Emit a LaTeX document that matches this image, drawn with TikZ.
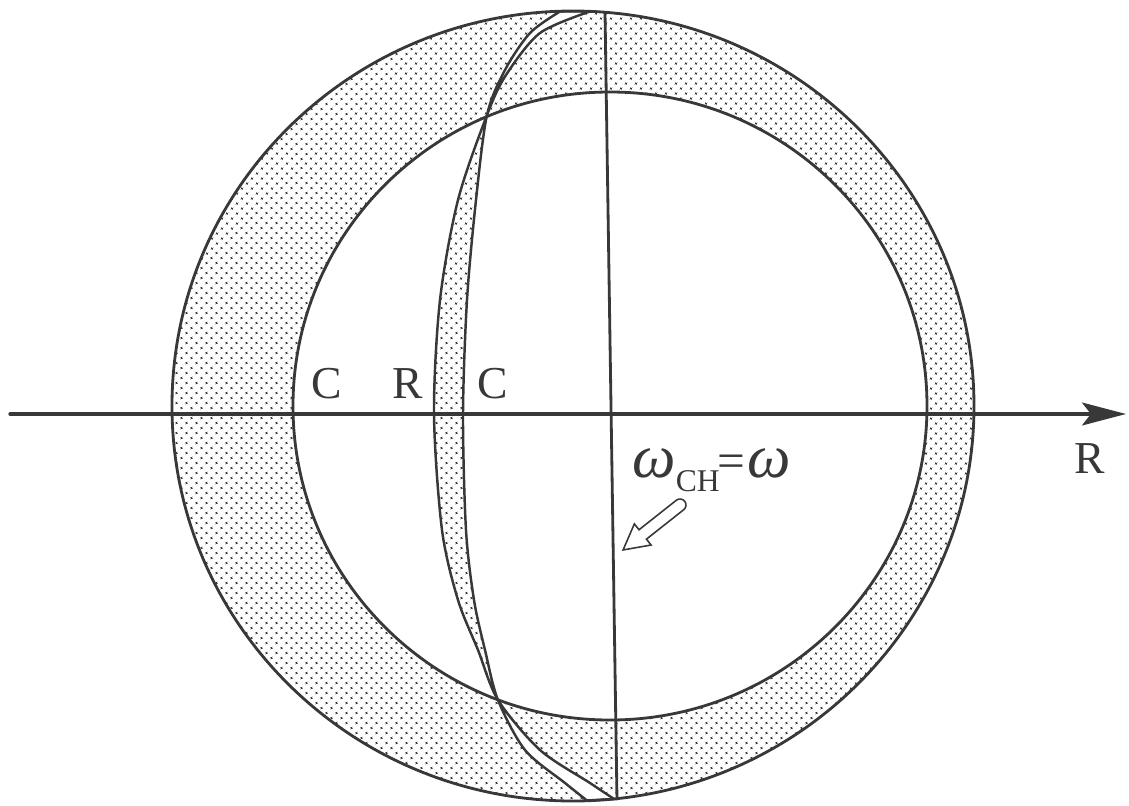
\documentclass[tikz,border=0pt]{standalone}
\usepackage{fontspec}
\setmainfont{Liberation Serif}
\usetikzlibrary{arrows.meta, patterns.meta}
\definecolor{inkgray}{HTML}{383838}

% meridian lens: outer curve top to bottom, inner curve back up
\newcommand{\lens}{plot[smooth] coordinates {(-0.40,7.89) (-1.40,7.46) (-2.08,6.62) (-2.46,5.82) (-3.04,4.12) (-3.40,2.12) (-3.52,-0.16) (-3.36,-2.48) (-3.04,-3.88) (-2.64,-4.88) (-2.24,-5.88) (-1.40,-6.88) (-0.40,-7.54) (0.08,-7.86)}
  -- plot[smooth] coordinates {(-0.46,-7.89) (-0.90,-7.54) (-1.70,-6.88) (-2.24,-5.88) (-2.50,-4.88) (-2.72,-3.88) (-2.88,-2.48) (-2.94,-0.16) (-2.86,2.12) (-2.68,4.12) (-2.46,5.82) (-2.10,6.72) (-1.60,7.46) (-1.00,7.89)}
  -- cycle}

\begin{document}
\begin{tikzpicture}[
    every node/.style={font=\fontsize{26}{30}\selectfont, text=inkgray, inner sep=0pt},
    rim/.style={draw=inkgray, line width=1.6pt},
    dotfill/.style={pattern={Dots[distance=4pt, radius=0.75pt, angle=45]}, pattern color=inkgray},
    >={Stealth[length=25pt, width=13pt, inset=5pt]},
  ]
  \useasboundingbox (-12.2,-7.98) rectangle (10.38,8.12);

  \coordinate (oc) at (-0.74,0);
  \coordinate (ic) at (0,0);
  \coordinate (axL) at (-12.0,-0.16);
  \coordinate (axR) at (10.32,-0.16);
  \coordinate (top) at (-0.10,7.88);
  \coordinate (bot) at (0.14,-7.88);

  % Shaded shell and lens
  \path[dotfill, even odd rule] (oc) ellipse (8.02 and 7.90) (ic) ellipse (6.34 and 6.28) \lens;

  \draw[rim] (oc) ellipse (8.02 and 7.90);
  \draw[rim] (ic) ellipse (6.34 and 6.28);
  \draw[rim, line width=1.4pt] \lens;
  \draw[rim] (top) -- (bot);

  % Axis
  \draw[rim, line width=1.9pt, line cap=round, ->] (axL) -- (axR);

  % Labels
  \node[anchor=base] (c1) at (-5.66,0.16) {C};
  \node[anchor=base] (r1) at (-4.04,0.16) {R};
  \node[anchor=base] (c2) at (-2.34,0.16) {C};
  \node[anchor=base] (r2) at (9.60,-1.34) {R};
  \node[anchor=base west, font=\fontsize{35}{38}\selectfont] (wlab) at (0.44,-1.42)
    {\itshape ω\raisebox{-8.5pt}{\upshape\fontsize{18}{20}\selectfont CH}\kern-1pt{\upshape\fontsize{28}{30}\selectfont =}\kern1pt ω};

  % Hollow pointer
  \filldraw[fill=white, draw=inkgray, line width=0.9pt, shift={(1.40,-1.98)}, rotate=218.3]
    (0,0.12) -- (0.95,0.12) -- (0.95,0.27) -- (1.45,0) -- (0.95,-0.27) -- (0.95,-0.12) -- (0,-0.12)
    arc[start angle=-90, end angle=-270, radius=0.12] -- cycle;
\end{tikzpicture}
\end{document}
